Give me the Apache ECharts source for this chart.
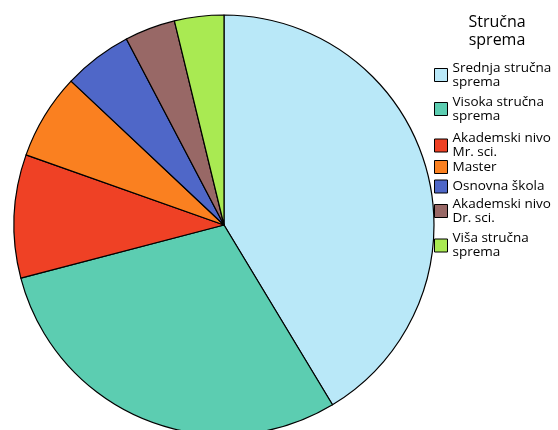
<!DOCTYPE html>
<html><head><meta charset="utf-8">
<script src="https://cdn.jsdelivr.net/npm/echarts@6/dist/echarts.min.js"></script>
<style>html,body{margin:0;padding:0;background:#fff}#c{width:558px;height:430px}</style>
</head><body><div id="c"></div>
<script>
const titleText = 'Stručna\nsprema';
const categories = ['Srednja stručna\nsprema','Visoka stručna\nsprema','Akademski nivo\nMr. sci.','Master','Osnovna škola','Akademski nivo\nDr. sci.','Viša stručna\nsprema'];
const values = [41.4, 29.6, 9.5, 6.6, 5.3, 3.9, 3.8];
const colors = ['#b9e8f8','#5ccdb1','#ef4125','#fa8020','#4f67c8','#986866','#a9ea52'];
const FONT = 'Open Sans';
const LH = 14;
const legendCenters = [75, 109, 145.5, 167, 186.5, 211, 245.5];
const chart = echarts.init(document.getElementById('c'), null, {renderer:'canvas'});
const legends = categories.map((c,i)=>{
  const lines = c.split('\n').length;
  const h = Math.max(13, lines*LH);
  return {orient:'vertical',left:434,top:legendCenters[i]-h/2,padding:0,itemWidth:13,itemHeight:13,icon:'rect',
    itemStyle:{borderColor:'#000',borderWidth:1},
    textStyle:{fontFamily:FONT,fontSize:13.5,color:'#000',lineHeight:LH},
    selectedMode:false,data:[c]};
});
chart.setOption({
  animation:false,
  color: colors,
  title:{text:titleText,left:497,top:13,textAlign:'center',padding:0,
    textStyle:{fontFamily:FONT,fontSize:16,fontWeight:'normal',color:'#000',lineHeight:18}},
  legend:legends,
  series:[{type:'pie',center:[224,225],radius:210,startAngle:90,clockwise:true,
    label:{show:false},labelLine:{show:false},
    itemStyle:{borderColor:'#000',borderWidth:1.2},
    emphasis:{disabled:true},
    data:categories.map((c,i)=>({name:c,value:values[i]}))}]
});
</script></body></html>
